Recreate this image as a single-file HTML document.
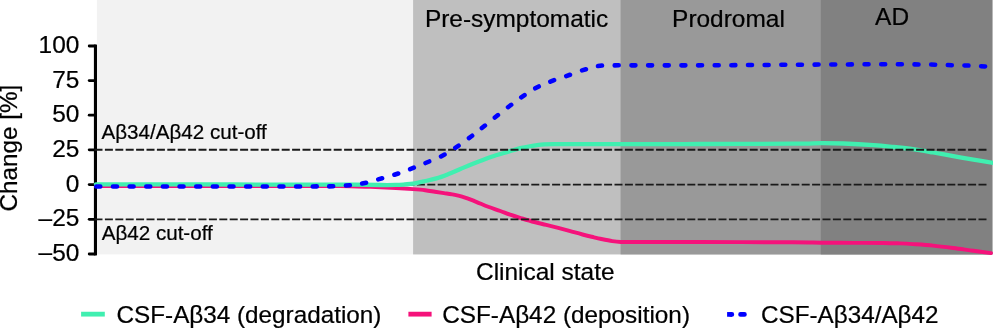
<!DOCTYPE html>
<html><head><meta charset="utf-8"><title>Chart</title>
<style>
html,body{margin:0;padding:0;background:#fff;}
svg{display:block;}
text{font-family:"Liberation Sans",Arial,Helvetica,sans-serif;fill:#000;stroke:#000;stroke-width:0.22px;}
.t24{font-size:24.45px;}
.t20{font-size:20.6px;}
</style></head><body>
<svg width="993" height="329" viewBox="0 0 993 329">
<rect x="0" y="0" width="993" height="329" fill="#fff"/>
<rect x="96.9" y="0" width="895.4" height="254.4" fill="#f2f2f2"/>
<rect x="413.1" y="0" width="579.2" height="254.4" fill="#bfbfbf"/>
<rect x="620.6" y="0" width="371.7" height="254.4" fill="#999999"/>
<rect x="820.8" y="0" width="171.5" height="254.4" fill="#818181"/>
<g stroke="#000" stroke-width="2.8">
<line x1="95.45" x2="95.45" y1="44.6" y2="255.4" stroke-width="3.1"/>
<line x1="89.2" x2="95" y1="46.00" y2="46.00" stroke-linecap="round"/><line x1="89.2" x2="95" y1="80.60" y2="80.60" stroke-linecap="round"/><line x1="89.2" x2="95" y1="115.20" y2="115.20" stroke-linecap="round"/><line x1="89.2" x2="95" y1="149.85" y2="149.85" stroke-linecap="round"/><line x1="89.2" x2="95" y1="184.60" y2="184.60" stroke-linecap="round"/><line x1="89.2" x2="95" y1="219.35" y2="219.35" stroke-linecap="round"/><line x1="89.2" x2="95" y1="254.00" y2="254.00" stroke-linecap="round"/>
</g>
<line x1="94.5" x2="986.5" y1="184.6" y2="184.6" stroke="#1a1a1a" stroke-width="1.9" stroke-dasharray="8 2.4"/>
<path d="M95.90 186.00 C113.25 186.00 165.98 186.00 200.00 186.00 C234.02 186.00 276.67 186.00 300.00 186.00 C323.33 186.00 328.27 185.85 340.00 186.00 C351.73 186.15 361.07 186.57 370.40 186.90 C379.73 187.23 388.90 187.63 396.00 188.00 C403.10 188.37 408.13 188.73 413.00 189.10 C417.87 189.47 421.55 189.77 425.20 190.20 C428.85 190.63 431.77 191.22 434.90 191.70 C438.03 192.18 441.12 192.65 444.00 193.10 C446.88 193.55 448.82 193.70 452.20 194.40 C455.58 195.10 460.30 196.07 464.30 197.30 C468.30 198.53 472.22 200.23 476.20 201.80 C480.18 203.38 484.18 205.22 488.20 206.75 C492.22 208.28 496.67 209.68 500.30 211.00 C503.93 212.32 506.35 213.45 510.00 214.70 C513.65 215.95 518.15 217.28 522.20 218.50 C526.25 219.72 530.30 220.94 534.30 222.00 C538.30 223.06 542.22 223.87 546.20 224.85 C550.18 225.83 554.18 226.84 558.20 227.90 C562.22 228.96 566.25 230.10 570.30 231.20 C574.35 232.30 578.55 233.48 582.50 234.50 C586.45 235.52 591.05 236.59 594.00 237.30 C596.95 238.01 597.15 238.12 600.20 238.75 C603.25 239.38 608.87 240.57 612.30 241.10 C615.73 241.63 616.85 241.80 620.80 241.95 C624.75 242.10 622.80 241.99 636.00 242.00 C649.20 242.01 673.83 241.95 700.00 242.00 C726.17 242.05 772.83 242.18 793.00 242.30 C813.17 242.42 811.00 242.60 821.00 242.70 C831.00 242.80 842.57 242.87 853.00 242.90 C863.43 242.93 875.77 242.82 883.60 242.90 C891.43 242.98 895.10 243.20 900.00 243.40 C904.90 243.60 907.48 243.73 913.00 244.10 C918.52 244.47 926.38 244.95 933.10 245.60 C939.82 246.25 946.58 247.13 953.30 248.00 C960.02 248.87 967.12 249.95 973.40 250.80 C979.68 251.65 988.07 252.72 991.00 253.10" fill="none" stroke="#f5127b" stroke-width="3.95" stroke-linecap="round" stroke-linejoin="round"/>
<path d="M95.90 184.35 C113.25 184.37 165.98 184.41 200.00 184.45 C234.02 184.49 276.67 184.57 300.00 184.60 C323.33 184.62 326.67 184.53 340.00 184.60 C353.33 184.67 370.67 184.94 380.00 185.00 C389.33 185.06 391.83 185.05 396.00 184.95 C400.17 184.85 402.17 184.62 405.00 184.40 C407.83 184.18 409.78 184.17 413.00 183.65 C416.22 183.13 420.40 182.18 424.30 181.30 C428.20 180.43 432.37 179.62 436.40 178.40 C440.43 177.18 444.50 175.57 448.50 174.00 C452.50 172.43 456.42 170.67 460.40 169.00 C464.38 167.33 468.43 165.58 472.40 164.00 C476.37 162.42 480.27 160.95 484.20 159.50 C488.13 158.05 492.00 156.60 496.00 155.30 C500.00 154.00 504.15 152.88 508.20 151.70 C512.25 150.52 516.25 149.18 520.30 148.20 C524.35 147.22 528.55 146.43 532.50 145.80 C536.45 145.17 540.08 144.68 544.00 144.40 C547.92 144.12 550.00 144.15 556.00 144.10 C562.00 144.05 569.33 144.10 580.00 144.10 C590.67 144.10 600.00 144.12 620.00 144.10 C640.00 144.08 671.17 144.07 700.00 144.00 C728.83 143.93 772.83 143.85 793.00 143.70 C813.17 143.55 812.60 143.13 821.00 143.10 C829.40 143.07 834.63 143.17 843.40 143.50 C852.17 143.83 865.22 144.52 873.60 145.10 C881.98 145.68 887.13 146.32 893.70 147.00 C900.27 147.68 906.43 148.28 913.00 149.20 C919.57 150.12 926.38 151.35 933.10 152.50 C939.82 153.65 946.58 154.90 953.30 156.10 C960.02 157.30 966.62 158.55 973.40 159.70 C980.18 160.85 990.57 162.45 994.00 163.00" fill="none" stroke="#40efb0" stroke-width="4.3" stroke-linejoin="round" stroke-linecap="round"/>
<g stroke="#1a1a1a" stroke-width="1.9" stroke-dasharray="8 2.4">
<line x1="94.5" x2="986.5" y1="149.8" y2="149.8"/>
<line x1="94.5" x2="986.5" y1="219.4" y2="219.4"/>
</g>
<path d="M96.30 186.40 L100.30 186.40 M112.95 186.40 L116.95 186.40 M129.60 186.40 L133.60 186.40 M146.25 186.40 L150.25 186.40 M162.90 186.40 L166.90 186.40 M179.55 186.40 L183.55 186.40 M196.20 186.40 L200.20 186.40 M212.85 186.40 L216.85 186.40 M229.50 186.40 L233.50 186.40 M246.15 186.40 L250.15 186.40 M262.80 186.40 L266.80 186.40 M279.45 186.40 L283.45 186.40 M296.10 186.40 L300.10 186.40 M312.75 186.41 L316.75 186.39 M329.20 186.36 L333.20 186.24 M345.91 185.59 L349.89 185.21 M362.14 183.50 L366.06 182.70 M378.27 179.34 L382.13 178.26 M394.40 174.72 L398.20 173.48 M410.13 169.11 L413.87 167.69 M425.51 163.02 L429.19 161.48 M441.03 156.43 L444.57 154.57 M455.29 147.86 L458.61 145.64 M468.95 138.15 L472.15 135.75 M481.84 128.05 L484.96 125.55 M494.83 117.54 L497.97 115.06 M508.01 107.21 L511.19 104.79 M521.25 97.32 L524.55 95.08 M535.23 88.33 L538.77 86.47 M550.33 81.62 L554.07 80.18 M566.21 76.06 L569.99 74.74 M582.08 70.38 L585.92 69.22 M598.02 66.07 L601.98 65.53 M614.70 65.38 L618.70 65.32 M631.45 65.35 L635.45 65.35 M648.10 65.35 L652.10 65.35 M664.75 65.35 L668.75 65.35 M681.40 65.35 L685.40 65.35 M698.05 65.36 L702.05 65.34 M714.70 65.26 L718.70 65.23 M731.35 65.15 L735.35 65.13 M748.00 65.05 L752.00 65.02 M764.65 64.94 L768.65 64.92 M781.30 64.84 L785.30 64.81 M797.95 64.73 L801.95 64.70 M814.60 64.62 L818.60 64.60 M831.25 64.52 L835.25 64.49 M847.90 64.41 L851.90 64.39 M864.55 64.31 L868.55 64.29 M881.20 64.30 L885.20 64.30 M897.85 64.29 L901.85 64.31 M914.50 64.38 L918.50 64.42 M931.15 64.56 L935.15 64.65 M947.80 65.05 L951.80 65.15 M964.45 65.43 L968.45 65.57 M981.10 66.20 L985.10 66.40" fill="none" stroke="#0000ff" stroke-width="4.55" stroke-linecap="round"/>
<g class="t24">
<text x="79.4" y="53.00" text-anchor="end">100</text><text x="79.4" y="87.60" text-anchor="end">75</text><text x="79.4" y="122.20" text-anchor="end">50</text><text x="79.4" y="156.85" text-anchor="end">25</text><text x="79.4" y="191.60" text-anchor="end">0</text><text x="79.4" y="226.35" text-anchor="end"><tspan dy="-0.8">–</tspan><tspan dy="0.8">25</tspan></text><text x="79.4" y="261.00" text-anchor="end"><tspan dy="-0.8">–</tspan><tspan dy="0.8">50</tspan></text>
<text x="424.9" y="27.1">Pre-symptomatic</text>
<text x="672.1" y="27.0">Prodromal</text>
<text x="875.1" y="25.45">AD</text>
<text x="476" y="279.7">Clinical state</text>
<text transform="translate(17.2 211.6) rotate(-90)" textLength="126.8" lengthAdjust="spacingAndGlyphs">Change [%]</text>
<text x="116.5" y="323.4" textLength="264.9" lengthAdjust="spacingAndGlyphs">CSF-Aβ34 (degradation)</text>
<text x="442.2" y="323.4" textLength="247.8" lengthAdjust="spacingAndGlyphs">CSF-Aβ42 (deposition)</text>
<text x="761" y="323.4" textLength="177.5" lengthAdjust="spacingAndGlyphs">CSF-Aβ34/Aβ42</text>
</g>
<g class="t20">
<text x="101.5" y="139.1">Aβ34/Aβ42 cut-off</text>
<text x="101.7" y="239.7">Aβ42 cut-off</text>
</g>
<line x1="81.1" x2="104.8" y1="314.15" y2="314.15" stroke="#40efb0" stroke-width="4.8"/>
<line x1="408.4" x2="431.6" y1="314.15" y2="314.15" stroke="#f5127b" stroke-width="4.8"/>
<rect x="727.1" y="312.05" width="5" height="4.7" fill="#0000ff"/>
<path d="M731 314.4 L731.85 314.4 M740.55 314.4 L744.45 314.4" stroke="#0000ff" stroke-width="4.7" stroke-linecap="round" fill="none"/>
</svg>
</body></html>
